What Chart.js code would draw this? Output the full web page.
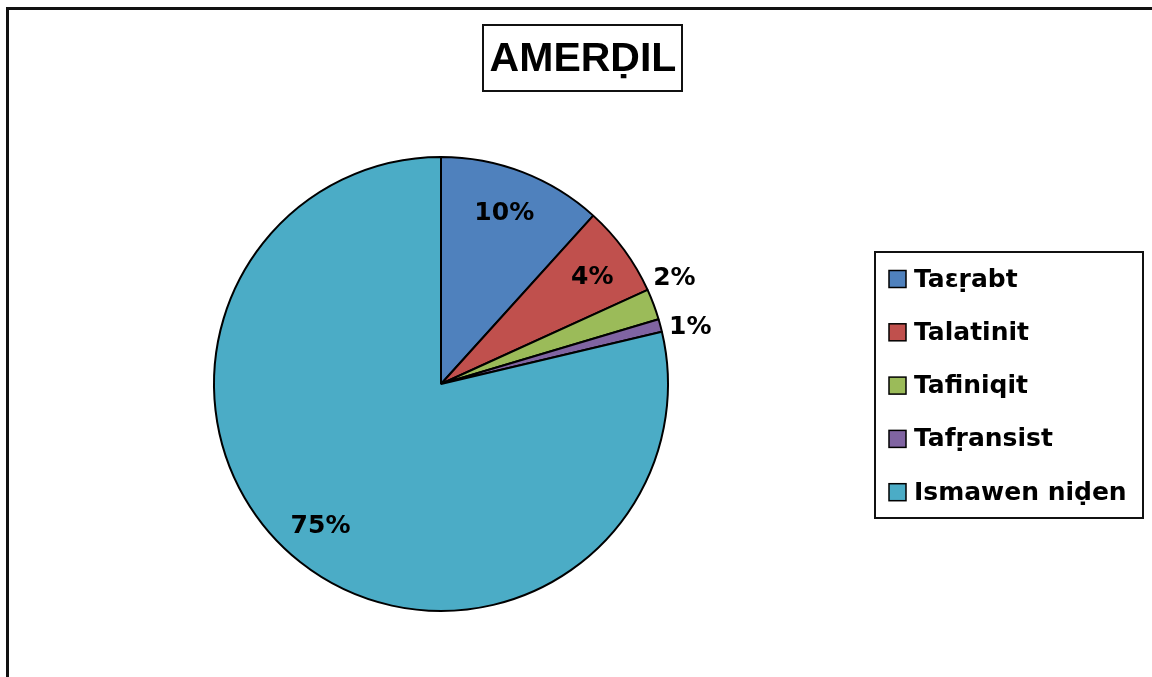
<!DOCTYPE html>
<html>
<head>
<meta charset="utf-8">
<script src="https://cdn.jsdelivr.net/npm/chart.js@4.4.0/dist/chart.umd.min.js"></script>
<style>
html,body{margin:0;padding:0;background:#fff;}
canvas{display:block;}
</style>
</head>
<body>
<canvas id="c" width="1152" height="677"></canvas>
<script>
const title = "AMERḌIL";
const categories = ["Taεṛabt", "Talatinit", "Tafiniqit", "Tafṛansist", "Ismawen niḍen"];
const values = [11.7, 6.5, 2.2, 0.9, 78.7];
const valueLabels = ["10%", "4%", "2%", "1%", "75%"];
const colors = ["#4F81BD", "#C0504D", "#9BBB59", "#8064A2", "#4BACC6"];

// label placement style: [radius factor, inside?, dx, dy]
const labelStyle = [
  {r: 0.80, inside: true, dx: -2, dy: -1},
  {r: 0.82, inside: true, dx: 1, dy: 3},
  {r: 1.05, inside: false, dx: -11, dy: -22},
  {r: 1.04, inside: false, dx: 0, dy: 4},
  {r: 0.82, inside: true, dx: -5, dy: -3}
];

const decor = {
  id: 'decor',
  beforeDraw(chart) {
    const ctx = chart.ctx;
    ctx.save();
    ctx.fillStyle = '#fff';
    ctx.fillRect(0, 0, chart.width, chart.height);
    // outer frame
    ctx.strokeStyle = '#111';
    ctx.lineWidth = 3;
    ctx.strokeRect(7.5, 8.5, chart.width + 20, chart.height + 20);
    // title box
    ctx.lineWidth = 2;
    ctx.strokeStyle = '#111';
    ctx.strokeRect(483, 25, 199, 66);
    ctx.fillStyle = '#000';
    ctx.font = 'bold 41px "Liberation Sans", Arial, sans-serif';
    ctx.textAlign = 'center';
    ctx.textBaseline = 'middle';
    ctx.fillText(title, 583, 60);
    // legend box
    ctx.lineWidth = 2;
    ctx.strokeRect(875, 252, 268, 266);
    ctx.font = 'bold 25px "DejaVu Sans", sans-serif';
    ctx.textAlign = 'left';
    ctx.textBaseline = 'middle';
    const ys0 = 279, step = 53.3;
    categories.forEach((c, i) => {
      const y = ys0 + i * step;
      ctx.fillStyle = colors[i];
      ctx.fillRect(889, y - 8.5, 17, 17);
      ctx.lineWidth = 1.5;
      ctx.strokeStyle = '#000';
      ctx.strokeRect(889, y - 8.5, 17, 17);
      ctx.fillStyle = '#000';
      ctx.fillText(c, 914, y + 1);
    });
    ctx.restore();
  },
  afterDatasetsDraw(chart) {
    const ctx = chart.ctx;
    const meta = chart.getDatasetMeta(0);
    ctx.save();
    ctx.font = 'bold 25px "DejaVu Sans", sans-serif';
    ctx.fillStyle = '#000';
    ctx.textBaseline = 'middle';
    meta.data.forEach((arc, i) => {
      const p = arc.getProps(['x', 'y', 'startAngle', 'endAngle', 'outerRadius'], true);
      const mid = (p.startAngle + p.endAngle) / 2;
      const st = labelStyle[i];
      const r = p.outerRadius * st.r;
      const x = p.x + Math.cos(mid) * r + st.dx;
      const y = p.y + Math.sin(mid) * r + st.dy;
      ctx.textAlign = st.inside ? 'center' : 'left';
      ctx.fillText(valueLabels[i], x, y);
    });
    ctx.restore();
  }
};

new Chart(document.getElementById('c'), {
  type: 'pie',
  data: {
    labels: categories,
    datasets: [{
      data: values,
      backgroundColor: colors,
      borderColor: '#000',
      borderWidth: 2
    }]
  },
  options: {
    responsive: false,
    animation: false,
    layout: {padding: {left: 213, right: 483, top: 156, bottom: 65}},
    plugins: {
      legend: {display: false},
      title: {display: false},
      tooltip: {enabled: false}
    }
  },
  plugins: [decor]
});
</script>
</body>
</html>
